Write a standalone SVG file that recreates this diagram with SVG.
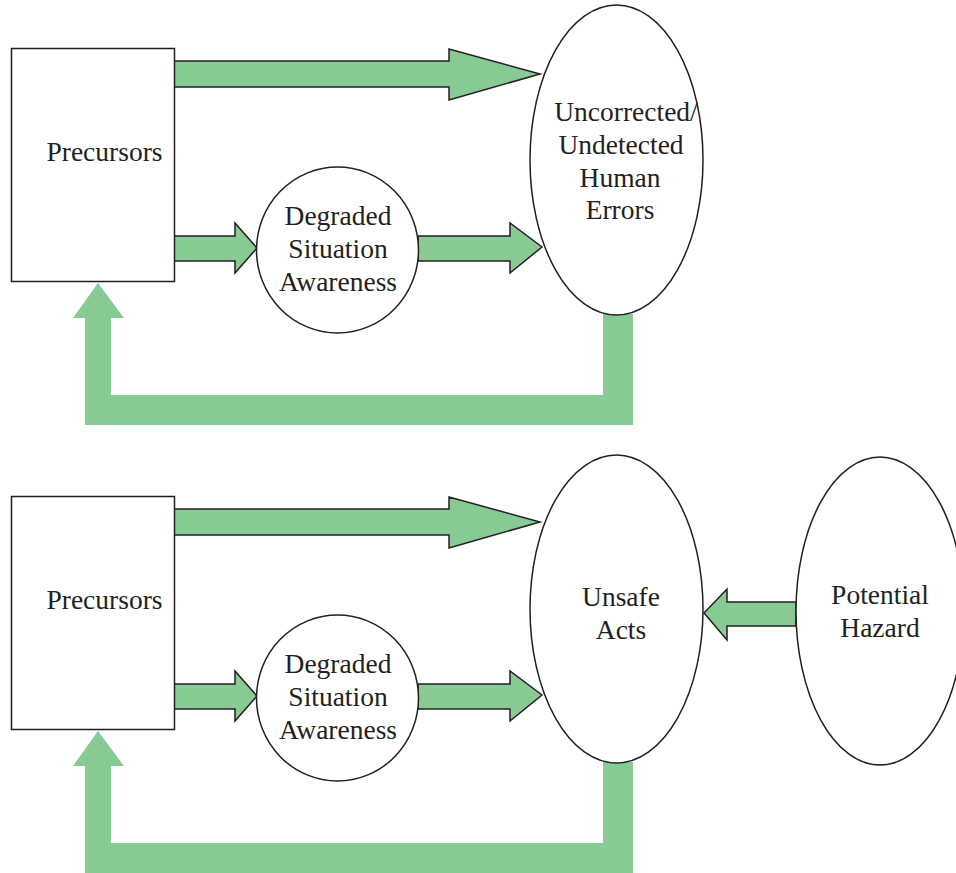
<svg xmlns="http://www.w3.org/2000/svg" width="956" height="873" viewBox="0 0 956 873">
<style>
.node{fill:#fff;stroke:#231F20;stroke-width:1.5}
.arr{fill:#88CA94;stroke:#231F20;stroke-width:1.5;stroke-linejoin:miter}
.fb{fill:#88CA94;stroke:none}
text{font-family:"Liberation Serif","Times New Roman",serif;font-size:27.5px;fill:#231F20;text-anchor:middle}
</style>
<rect width="956" height="873" fill="#fff"/>
<g id="connectors">
  <polygon class="arr" points="174,61 449,61 449,49 540,74 449,100 449,87 174,87"/>
  <polygon class="arr" points="174,236 235,236 235,223 257,248 235,273 235,261 174,261"/>
  <polygon class="arr" points="418,236 510,236 510,223 542,247 510,273 510,261 418,261"/>
  <polygon class="fb" points="603,314 633,314 633,425 85,425 85,318 73,318 98,283 124,318 111,318 111,395 603,395"/>
  <polygon class="arr" points="174,509 449,509 449,497 540,522 449,548 449,535 174,535"/>
  <polygon class="arr" points="174,684 235,684 235,671 257,696 235,721 235,709 174,709"/>
  <polygon class="arr" points="418,684 510,684 510,671 542,695 510,721 510,709 418,709"/>
  <polygon class="fb" points="603,762 633,762 633,873 85,873 85,766 73,766 98,731 124,766 111,766 111,843 603,843"/>
  <polygon class="arr" points="796,602 727,602 727,589 704,613 727,640 727,626 796,626"/>
</g>
<g id="precursors1">
  <rect class="node" x="11.5" y="48.5" width="163" height="233"/>
  <text x="104.5" y="161">Precursors</text>
</g>
<g id="dsa1">
  <ellipse class="node" cx="337.5" cy="250" rx="81" ry="83"/>
  <text x="338" y="225">Degraded</text>
  <text x="338" y="258">Situation</text>
  <text x="338" y="291">Awareness</text>
</g>
<g id="errors">
  <ellipse class="node" cx="616.5" cy="160" rx="86.5" ry="155"/>
  <text x="626" y="121">Uncorrected/</text>
  <text x="621" y="154">Undetected</text>
  <text x="620" y="187">Human</text>
  <text x="620" y="219">Errors</text>
</g>
<g id="precursors2">
  <rect class="node" x="11.5" y="496.5" width="163" height="233"/>
  <text x="104.5" y="609">Precursors</text>
</g>
<g id="dsa2">
  <ellipse class="node" cx="337.5" cy="698" rx="81" ry="83"/>
  <text x="338" y="673">Degraded</text>
  <text x="338" y="706">Situation</text>
  <text x="338" y="739">Awareness</text>
</g>
<g id="unsafe">
  <ellipse class="node" cx="616.5" cy="609" rx="86.5" ry="154"/>
  <text x="621" y="606">Unsafe</text>
  <text x="621" y="639">Acts</text>
</g>
<g id="hazard">
  <ellipse class="node" cx="880" cy="611" rx="84" ry="154"/>
  <text x="880" y="604">Potential</text>
  <text x="880" y="637">Hazard</text>
</g>
</svg>
